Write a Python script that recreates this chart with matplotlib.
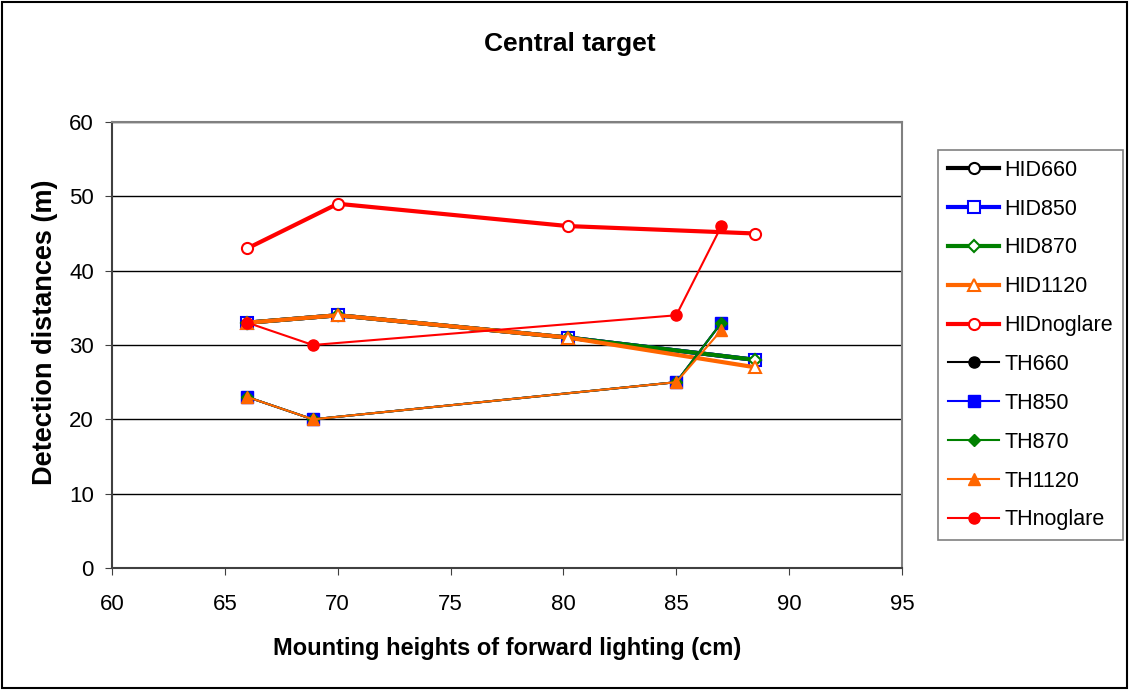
import matplotlib
matplotlib.use("Agg")
import matplotlib.pyplot as plt
from matplotlib.patches import Rectangle

plt.rcParams['font.family'] = ['Liberation Sans', 'DejaVu Sans']

# HID series (mounting heights in cm, detection distance in m)
hid_x = [66, 70, 80.2, 88.5]
hid660 = [33, 34, 31, 28]
hid850 = [33, 34, 31, 28]
hid870 = [33, 34, 31, 28]
hid1120 = [33, 34, 31, 27]
hid_noglare = [43, 49, 46, 45]

# TH series
th_x = [66, 68.9, 85, 87]
th660 = [23, 20, 25, 33]
th850 = [23, 20, 25, 33]
th870 = [23, 20, 25, 33]
th1120 = [23, 20, 25, 32]
th_noglare = [33, 30, 34, 46]

orange = '#FF6600'

fig = plt.figure(figsize=(11.3, 6.9), dpi=100)
ax = fig.add_axes([112 / 1130, 1 - 568 / 690, 790 / 1130, 446 / 690])

# thick lines with open markers
hid_series = [
    ('HID660', hid660, 'black', 'o'),
    ('HID850', hid850, 'blue', 's'),
    ('HID870', hid870, 'green', 'D'),
    ('HID1120', hid1120, orange, '^'),
    ('HIDnoglare', hid_noglare, 'red', 'o'),
]
for name, vals, col, mk in hid_series:
    ax.plot(hid_x, vals, color=col, lw=3, marker=mk, ms=8 if mk != 'D' else 6,
            mfc='white', mec=col, mew=1.5, label=name, zorder=3)

# thin lines with filled markers
th_series = [
    ('TH660', th660, 'black', 'o'),
    ('TH850', th850, 'blue', 's'),
    ('TH870', th870, 'green', 'D'),
    ('TH1120', th1120, orange, '^'),
    ('THnoglare', th_noglare, 'red', 'o'),
]
for name, vals, col, mk in th_series:
    ax.plot(th_x, vals, color=col, lw=1.5, marker=mk, ms=8 if mk != 'D' else 6,
            mfc=col, mec=col, label=name, zorder=3)

ax.set_xlim(60, 95)
ax.set_ylim(0, 60)
ax.set_xticks(range(60, 96, 5))
ax.set_yticks(range(0, 61, 10))
ax.yaxis.grid(True, color='black', lw=1)
ax.set_axisbelow(True)
for s in ax.spines.values():
    s.set_color('#808080')
    s.set_linewidth(1.5)
ax.spines['left'].set_color('#404040')
ax.spines['bottom'].set_color('#404040')
ax.tick_params(labelsize=16, length=5, direction='out', color='#404040')
ax.tick_params(axis='x', pad=14)
ax.tick_params(axis='y', pad=8)

fig.text(570 / 1130, 1 - 44 / 690, 'Central target', fontsize=19,
         fontweight='bold', ha='center', va='center')
ax.set_xlabel('Mounting heights of forward lighting (cm)', fontsize=17,
              fontweight='bold')
ax.xaxis.set_label_coords(0.5, -(648 - 568) / 446, transform=ax.transAxes)
ax.xaxis.label.set_va('center')
ax.set_ylabel('Detection distances (m)', fontsize=19.5, fontweight='bold')
ax.yaxis.set_label_coords(-(112 - 45) / 790, (568 - 332) / 446, transform=ax.transAxes)
ax.yaxis.label.set_va('center')

leg = ax.legend(loc='upper left', bbox_to_anchor=(938 / 1130, 1 - 150 / 690),
                bbox_transform=fig.transFigure, fontsize=15.5, frameon=True,
                fancybox=False, edgecolor='#606060', handlelength=2.4,
                labelspacing=0.83, borderpad=0.45, handletextpad=0.25,
                borderaxespad=0)
leg.get_frame().set_linewidth(1.2)

# outer chart border
fig.patches.append(Rectangle((0.002, 0.003), 0.995, 0.994, transform=fig.transFigure,
                             fill=False, edgecolor='black', lw=1.5))

fig.savefig('out.png', dpi=100)
